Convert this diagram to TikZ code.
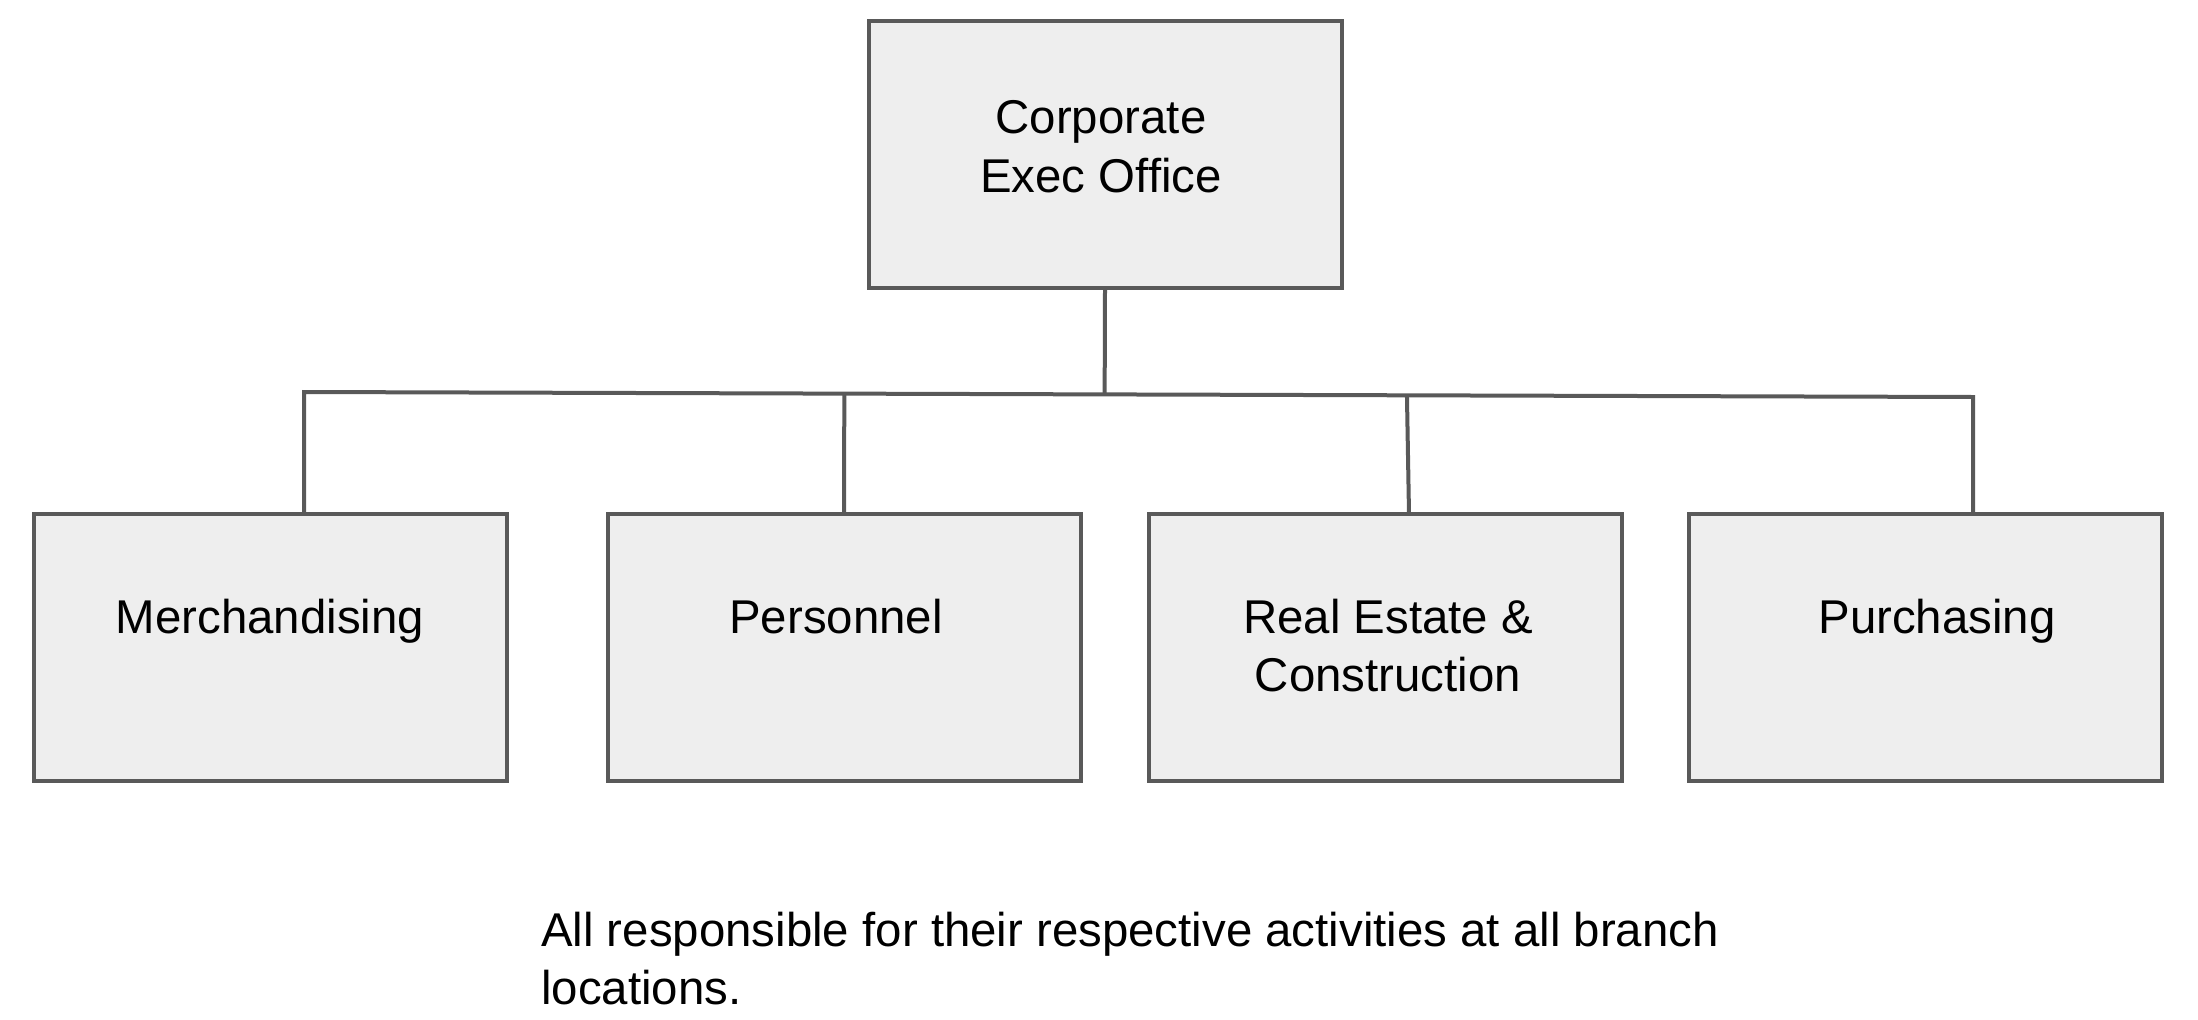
\documentclass[tikz,border=0pt]{standalone}
\usepackage{fontspec}
\setmainfont{Liberation Sans}
\usetikzlibrary{calc}
\definecolor{edge}{HTML}{595959}
\definecolor{boxfill}{HTML}{EEEEEE}
\begin{document}
\begin{tikzpicture}[x=1pt,y=-1pt,
  orgbox/.style={draw=edge,fill=boxfill,line width=4pt,minimum width=473pt,minimum height=267pt,inner sep=0pt},
  lbl/.style={anchor=base,inner sep=0pt,font=\fontsize{47.4}{58}\selectfont},
  conn/.style={draw=edge,line width=4pt}]
\useasboundingbox (0,0) rectangle (2198,1020);
% boxes
\node[orgbox] (top) at (1105,154) {};
\node[orgbox] (m) at (270.5,647.5) {};
\node[orgbox] (p) at (844,647.5) {};
\node[orgbox] (r) at (1385,647.5) {};
\node[orgbox] (u) at (1925.5,647.5) {};
% labels
\node[lbl] (t1) at (1101,133) {Corporate};
\node[lbl] (t2) at (1101,192) {Exec Office};
\node[lbl] (lm) at (270,633) {Merchandising};
\node[lbl] (lp) at (836,633) {Personnel};
\node[lbl] (lr1) at (1388,633) {Real Estate \&};
\node[lbl] (lr2) at (1388,691) {Construction};
\node[lbl] (lu) at (1937,633) {Purchasing};
% connectors
\coordinate (bl) at (304,392);
\coordinate (br) at (1973,397);
\coordinate (d1) at (304,514);
\coordinate (d2) at (844,514);
\coordinate (d3) at (1409,514);
\coordinate (d4) at (1973,514);
\coordinate (s) at (top.south);
\draw[conn,line join=miter] (d1) -- (bl) -- (br) -- (d4);
\draw[conn] (s) -- ($(bl)!(s)!(br)$);
\draw[conn] (d2) -- ($(bl)!(d2)!(br)$);
\draw[conn] (d3) -- ($(bl)!(1407,395)!(br)$);
% note
\node[anchor=base west,inner sep=0pt,align=left,font=\fontsize{47.4}{58}\selectfont] (note) at (541,1004) {All responsible for their respective activities at all branch\\locations.};
\end{tikzpicture}
\end{document}
